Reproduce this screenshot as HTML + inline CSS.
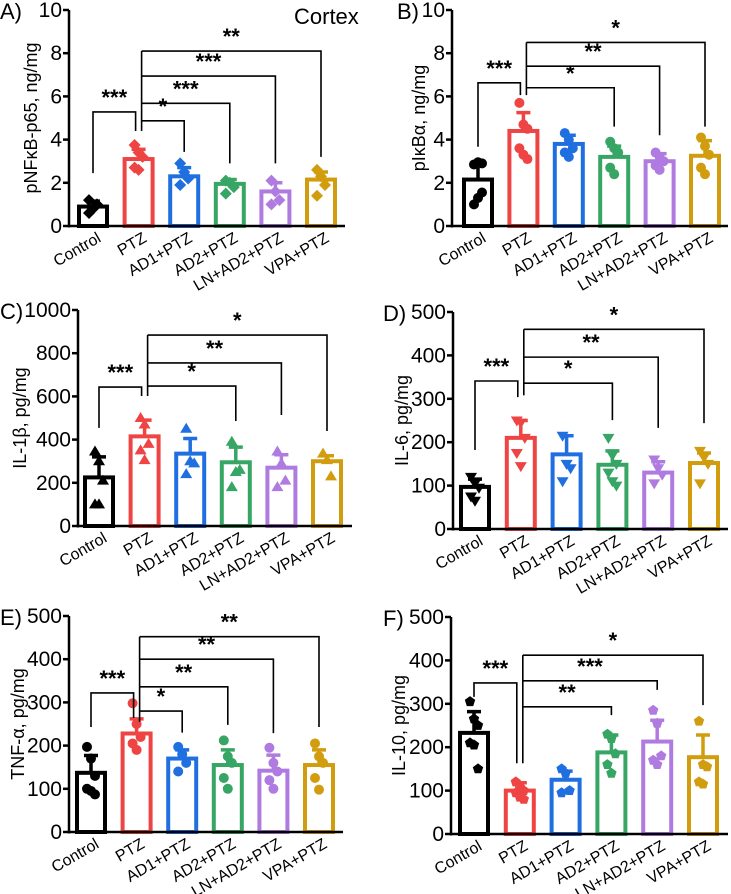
<!DOCTYPE html>
<html><head><meta charset="utf-8"><style>
body{margin:0;background:#fff;}
svg{display:block;font-family:"Liberation Sans",Arial,sans-serif;}
</style></head><body>
<svg id="fig" width="731" height="894" viewBox="0 0 731 894" xmlns="http://www.w3.org/2000/svg">
<text x="294" y="24" font-size="22">Cortex</text>
</svg>
<script>
const categories=["Control","PTZ","AD1+PTZ","AD2+PTZ","LN+AD2+PTZ","VPA+PTZ"];
const colors=["#000000","#ef4444","#1f6fe0","#37a564","#b07be0","#d19d0e"];
// Panel A
const aMeans=[0.9,3.1,2.3,1.95,1.6,2.15];
const aSD=[0.25,0.45,0.4,0.2,0.4,0.35];
const aPoints=[[0.6,0.8,1.0,1.2],[3.75,3.4,3.2,2.7,2.6],[2.9,2.5,2.2,1.9],[2.1,2.0,1.8,1.5],[2.1,1.6,1.2,1.0],[2.6,2.3,1.9,1.4]];
const aTicks=[0,2,4,6,8,10];
// Panel B
const bMeans=[2.15,4.4,3.8,3.2,3.0,3.25];
const bSD=[0.8,0.85,0.4,0.5,0.35,0.7];
const bPoints=[[1.0,1.3,1.55,2.85,2.95,2.9],[5.7,4.7,4.5,3.6,3.3,3.1],[4.3,4.0,3.6,3.4,3.2],[3.9,3.6,3.4,2.7,2.4],[3.4,3.2,3.0,2.8,2.6],[4.1,3.7,3.3,2.7,2.4]];
const bTicks=[0,2,4,6,8,10];
// Panel C
const cMeans=[225,415,335,295,270,300];
const cSD=[95,75,70,70,60,25];
const cPoints=[[345,300,210,100,100],[500,470,380,350,305],[450,300,290,240],[390,250,260,180],[345,290,210,180],[335,305,230]];
const cTicks=[0,200,400,600,800,1000];
// Panel D
const dMeans=[97,210,172,148,130,152];
const dSD=[18,40,43,32,25,23];
const dPoints=[[120,105,95,75,65],[250,245,210,175,145],[215,150,140,110],[210,170,150,130,110,100],[160,140,125,105],[180,165,150,105]];
const dTicks=[0,100,200,300,400,500];
// Panel E
const eMeans=[137,228,170,155,142,155];
const eSD=[40,34,20,35,36,35];
const ePoints=[[197,170,130,100,95,87],[298,250,220,205,190],[197,180,160,140],[212,175,160,125,100],[195,160,140,120,100],[205,175,160,125,98]];
const eTicks=[0,100,200,300,400,500];
// Panel F
const fMeans=[233,100,125,188,213,177];
const fSD=[49,18,20,40,49,51];
const fPoints=[[305,265,250,210,205,150],[120,108,100,95,85,80],[150,140,100,95],[230,220,185,160,140],[285,255,180,170,160],[260,160,155,120,115]];
const fTicks=[0,100,200,300,400,500];
// significance brackets
const aPair=[5.28,2.45,4.4,"***"], aStem=4.4, aFan=[[2,4.87,3.43,"*"],[3,5.68,2.9,"***"],[4,6.94,2.9,"***"],[5,8.1,3.2,"**"]];
const bPair=[6.63,3.67,6.06,"***"], bStem=6.06, bFan=[[3,6.4,4.6,"*"],[4,7.4,4.2,"**"],[5,8.5,4.6,"*"]];
const cPair=[643,454,602,"***"], cStem=602, cFan=[[3,648,486,"*"],[4,755,514,"**"],[5,884,440,"*"]];
const dPair=[341,182,304,"***"], dStem=308, dFan=[[3,336,251,"*"],[4,396,233,"**"],[5,460,244,"*"]];
const ePair=[322,243,264,"***"], eStem=255, eFan=[[2,280,230,"*"],[3,336,248,"**"],[4,400,229,"**"],[5,452,243,"**"]];
const fPair=[348,316,163,"***"], fStem=163, fFan=[[3,293,274,"**"],[4,353,332,"***"],[5,412,297,"*"]];

const NS="http://www.w3.org/2000/svg";
const svg=document.getElementById("fig");
function mk(tag,attrs,parent){const e=document.createElementNS(NS,tag);for(const k in attrs)e.setAttribute(k,attrs[k]);(parent||svg).appendChild(e);return e;}
function marker(g,shape,x,y,col){
  const r=5;let e;
  if(shape==="diamond")e=mk("polygon",{points:`${x},${y-r-1} ${x+r+1},${y} ${x},${y+r+1} ${x-r-1},${y}`,fill:col},g);
  else if(shape==="circle")e=mk("circle",{cx:x,cy:y,r:r,fill:col},g);
  else if(shape==="tri")e=mk("polygon",{points:`${x},${y-r-1} ${x+r+1},${y+r-1} ${x-r-1},${y+r-1}`,fill:col},g);
  else if(shape==="itri")e=mk("polygon",{points:`${x},${y+r+1} ${x+r+1},${y-r+1} ${x-r-1},${y-r+1}`,fill:col},g);
  else{let p=[];for(let i=0;i<5;i++){const a=-Math.PI/2+i*2*Math.PI/5;p.push((x+r*1.1*Math.cos(a)).toFixed(1)+","+(y+r*1.1*Math.sin(a)).toFixed(1));}e=mk("polygon",{points:p.join(" "),fill:col},g);}
  
  
}
function panel(p){
  const g=mk("g",{});
  
  
  const ymax=p.ticks[p.ticks.length-1];
  const Y=v=>p.y0-(v/ymax)*(p.y0-p.yTop);
  const X=i=>p.x0+p.first+i*p.step;
  const L=mk("text",{x:p.lx,y:p.yTop+9,"font-size":22},g);L.textContent=p.id.toUpperCase()+")";
  
  const T=mk("text",{x:p.tx,y:(p.y0+p.yTop)/2,"font-size":18,"text-anchor":"middle",transform:`rotate(-90 ${p.tx} ${(p.y0+p.yTop)/2})`},g);
  T.textContent=p.title;
  p.means.forEach((m,i)=>{
    const cx=X(i);
    const r=mk("rect",{x:cx-14,y:Y(m),width:28,height:p.y0-Y(m),fill:"none",stroke:colors[i],"stroke-width":4},g);
    
    
    const top=Y(m+p.sd[i]);
    const eb=mk("path",{d:`M${cx},${Y(m)} V${top} M${cx-7},${top} H${cx+7}`,stroke:colors[i],"stroke-width":3.5,fill:"none"},g);
    
    
    p.points[i].forEach((v,k)=>marker(g,p.shape,cx+((k%3)-1)*4,Y(v),colors[i]));
  });
  const ax=mk("path",{d:`M${p.x0},${p.yTop} V${p.y0+1.5} M${p.x0-1},${p.y0} H${p.xEnd}`,stroke:"#000","stroke-width":2.5,fill:"none"},g);
  
  p.ticks.forEach(t=>{
    const tk=mk("line",{x1:p.x0-6,x2:p.x0,y1:Y(t),y2:Y(t),stroke:"#000","stroke-width":2.5},g);
    
    const tl=mk("text",{x:p.x0-7,y:Y(t)+7,"font-size":21,"text-anchor":"end"},g);tl.textContent=t;
    
  });
  categories.forEach((c,i)=>{
    const x=X(i)+9,y=p.y0+15;
    const t=mk("text",{x:x,y:y,"font-size":16,"text-anchor":"end",transform:`rotate(-30 ${x} ${y})`},g);t.textContent=c;
    
  });
  const sig=(x,y,s)=>{const t=mk("text",{x:x,y:y+15,"font-size":22,"font-weight":"bold","text-anchor":"middle"},g);t.textContent=s;
    };
  const pr=p.pair, xl=X(0), xr=X(1)-3;
  const b1=mk("path",{d:`M${xl},${Y(pr[1])} V${Y(pr[0])} H${xr} V${Y(pr[2])}`,stroke:"#000","stroke-width":1.6,fill:"none"},g);
  
  sig((xl+xr)/2,Y(pr[0])-22,pr[3]);
  const xs=X(1)+3;
  const topY=Math.max(...p.fan.map(f=>f[1]));
  const st=mk("path",{d:`M${xs},${Y(p.stem)} V${Y(topY)}`,stroke:"#000","stroke-width":1.6,fill:"none"},g);
  
  p.fan.forEach(f=>{
    const xt=X(f[0]);
    const b=mk("path",{d:`M${xs},${Y(f[1])} H${xt} V${Y(f[2])}`,stroke:"#000","stroke-width":1.6,fill:"none"},g);
    
    
    sig((xs+xt)/2,Y(f[1])-22,f[3]);
  });
}
panel({id:"a",x0:69,y0:226,yTop:10,first:24,step:45.6,xEnd:345,lx:0,tx:37,title:"pNFκB-p65, ng/mg",means:aMeans,sd:aSD,points:aPoints,ticks:aTicks,shape:"diamond",pair:aPair,stem:aStem,fan:aFan});
panel({id:"b",x0:452,y0:226,yTop:10,first:26,step:45.4,xEnd:728,lx:397,tx:425,title:"pIκBα, ng/mg",means:bMeans,sd:bSD,points:bPoints,ticks:bTicks,shape:"circle",pair:bPair,stem:bStem,fan:bFan});
panel({id:"c",x0:78,y0:526,yTop:310,first:21,step:45.6,xEnd:352,lx:0,tx:26,title:"IL-1β, pg/mg",means:cMeans,sd:cSD,points:cPoints,ticks:cTicks,shape:"tri",pair:cPair,stem:cStem,fan:cFan});
panel({id:"d",x0:453,y0:529,yTop:312,first:22,step:45.8,xEnd:728,lx:383,tx:408,title:"IL-6, pg/mg",means:dMeans,sd:dSD,points:dPoints,ticks:dTicks,shape:"itri",pair:dPair,stem:dStem,fan:dFan});
panel({id:"e",x0:69,y0:832,yTop:616,first:22,step:45.6,xEnd:343,lx:0,tx:24,title:"TNF-α, pg/mg",means:eMeans,sd:eSD,points:ePoints,ticks:eTicks,shape:"circle",pair:ePair,stem:eStem,fan:eFan});
panel({id:"f",x0:451,y0:834,yTop:617,first:23,step:45.8,xEnd:728,lx:383,tx:405,title:"IL-10, pg/mg",means:fMeans,sd:fSD,points:fPoints,ticks:fTicks,shape:"penta",pair:fPair,stem:fStem,fan:fFan});
</script>
</body></html>
